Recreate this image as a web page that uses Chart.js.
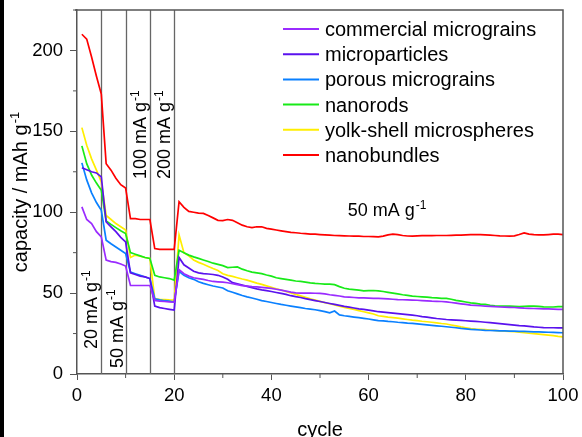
<!DOCTYPE html>
<html>
<head>
<meta charset="utf-8">
<script src="https://cdn.jsdelivr.net/npm/chart.js@4.4.0/dist/chart.umd.min.js"></script>
<style>
  html, body { margin: 0; padding: 0; background: #fff; }
  canvas { display: block; }
</style>
</head>
<body>
<canvas id="cv" width="582" height="437"></canvas>
<script>
// cycle numbers 1..100
const cycles = Array.from({ length: 100 }, (_, i) => i + 1);

const commercialMicrograins = [
  103.3, 95.5, 93, 88, 84.8, 70.4, 69.5, 69, 68, 66.7,
  54.7, 54.7, 54.7, 54.7, 54.7, 45.5, 45, 44.8, 44.6, 44.5,
  64.5, 62, 60.5, 59.5, 59, 58.5, 57.8, 57.2, 57, 56.8,
  56.4, 55.8, 55.2, 54.6, 54.3, 54, 53.8, 53.5, 53.2, 52.9,
  52.4, 51.8, 51.2, 50.6, 50.2, 50, 50, 50, 49.9, 49.8,
  49.5, 49, 48.6, 48.2, 47.7, 47.5, 47.3, 47.1, 47, 46.9,
  46.8, 46.7, 46.6, 46.4, 46.2, 46, 45.9, 45.8, 45.7, 45.6,
  45.4, 45.2, 45, 44.9, 44.8, 44.6, 44.2, 43.8, 43.4, 43,
  42.6, 42.4, 42.2, 42, 41.8, 41.6, 41.4, 41.3, 41.2, 41.1,
  40.9, 40.7, 40.6, 40.5, 40.4, 40.3, 40.2, 40.1, 40, 39.9
];
const microparticles = [
  127.5, 126.3, 125, 124.3, 121.8, 94, 91, 88, 84.5, 81.7,
  62.5, 61.5, 60.5, 60, 59, 42, 41, 40.5, 40, 39.5,
  72, 67.5, 65.5, 63.5, 62.5, 62, 61.8, 61.5, 61, 60,
  58.5, 56.5, 55.8, 55, 54.2, 53.4, 52.6, 52, 51.5, 51,
  50.4, 49.8, 49.2, 48.4, 47.8, 47.3, 46.6, 46, 45.4, 44.8,
  44.2, 43.6, 43, 42.4, 41.8, 41.3, 40.8, 40.3, 39.9, 39.5,
  39, 38.5, 38.2, 37.9, 37.6, 37.3, 37, 36.7, 36.4, 36,
  35.5, 35.1, 34.7, 34.3, 34, 33.7, 33.5, 33.3, 33.1, 32.9,
  32.7, 32.5, 32.3, 32, 31.7, 31.4, 31.1, 30.8, 30.5, 30.2,
  29.9, 29.7, 29.4, 29.1, 28.9, 28.7, 28.6, 28.6, 28.5, 28.5
];
const porousMicrograins = [
  130.5, 120, 112, 106, 101.2, 82.7, 80.5, 78.5, 76.5, 74.5,
  63, 62, 61, 60, 59, 46.5, 45.8, 45.3, 45, 44.5,
  63.5, 61, 59.5, 58.5, 57, 56, 55.2, 54.4, 53.8, 53.2,
  51.5, 50.5, 49.5, 48.5, 47.7, 47, 46.2, 45.4, 44.8, 44.2,
  43.6, 43, 42.5, 42, 41.5, 41, 40.5, 40.1, 39.7, 39.2,
  38.6, 37.8, 38.9, 36.5, 36, 35.6, 35.2, 34.8, 34.4, 34,
  33.5, 33, 32.8, 32.5, 32.3, 32, 31.8, 31.5, 31.3, 31,
  30.7, 30.4, 30.1, 29.8, 29.5, 29.2, 28.9, 28.6, 28.2, 27.9,
  27.6, 27.4, 27.2, 27, 26.9, 26.8, 26.7, 26.6, 26.5, 26.5,
  26.4, 26.3, 26.2, 26.1, 26, 25.9, 25.8, 25.7, 25.6, 25.5
];
const nanorods = [
  141, 130, 123, 118, 113.6, 94.6, 92.5, 90.5, 88.5, 86.8,
  75, 74, 73, 72, 71.4, 61, 60, 59.5, 59, 58,
  76.5, 75, 73.5, 72.4, 71.5, 70.5, 69.5, 68.5, 67.8, 67,
  65.8, 66, 66.2, 64.8, 63.8, 63, 62.5, 62, 61.2, 60.5,
  59.5, 59, 58.5, 58, 57.5, 57.2, 56.8, 56.3, 56, 55.8,
  55.6, 55.5, 55.2, 54, 53, 52.5, 52.2, 51.8, 51.4, 51.5,
  51.6, 51.4, 51, 50.5, 50, 49.5, 49, 48.6, 48.1, 47.9,
  47.7, 47.5, 47.2, 47, 46.8, 46.7, 46.2, 45.5, 45, 44.5,
  44, 43.6, 43.2, 43, 42.5, 42.2, 42, 42, 42, 41.8,
  41.6, 41.8, 42, 42, 41.8, 41.5, 41.4, 41.4, 41.6, 41.6
];
const yolkShellMicrospheres = [
  152.3, 141.4, 133, 126, 118.7, 98, 95.5, 93, 91, 89,
  72, 73.5, 72.8, 72, 71.4, 46.5, 46.2, 46, 45.8, 45.7,
  86, 75, 73, 70.5, 69, 67.8, 66.5, 65.2, 64, 62,
  61, 60.3, 59.5, 58.7, 58, 57.1, 56.2, 55.4, 54.5, 53.6,
  52.7, 51.9, 51, 50.1, 49.2, 48.3, 47.4, 46.5, 45.7, 44.9,
  44.1, 43.4, 42.7, 41.9, 41.2, 40.6, 39.9, 39.2, 38.5, 37.8,
  37.1, 36, 35.6, 35.2, 34.9, 34.5, 34.1, 33.7, 33.3, 33,
  32.6, 32.3, 32, 31.6, 31.2, 30.9, 30.3, 29.7, 29.1, 28.6,
  28.1, 27.8, 27.6, 27.4, 27.2, 27, 26.7, 26.5, 26.3, 26.1,
  25.8, 25.5, 25.2, 24.9, 24.6, 24.3, 24, 23.7, 23.3, 23
];
const nanobundles = [
  210, 207, 196, 184, 173, 130, 126, 121, 117, 115,
  96, 96, 95.5, 95.5, 95.5, 77.5, 77, 77, 77, 77,
  106.5, 103, 100.5, 100, 99.5, 99.3, 98, 96.5, 95, 94.8,
  95.5, 95, 93.5, 92, 91, 90.5, 91, 91, 90, 89.5,
  89, 88.5, 88, 87.5, 87.3, 87, 86.8, 86.5, 86.4, 86.2,
  86, 85.8, 85.6, 85.5, 85.4, 85.3, 85.2, 85.2, 85, 85,
  84.9, 84.8, 85.2, 86, 86.4, 86.2, 85.6, 85.3, 85.2, 85.4,
  85.5, 85.6, 85.5, 85.6, 85.6, 85.6, 85.7, 85.8, 85.9, 86,
  86.1, 86.2, 86.2, 86, 85.8, 85.6, 85.4, 85.3, 85.2, 85.4,
  86.2, 87.2, 86.5, 86.2, 86, 86, 86.2, 86.4, 86.4, 86.2
];

const seriesNames = ['commercial micrograins', 'microparticles', 'porous micrograins',
  'nanorods', 'yolk-shell microspheres', 'nanobundles'];
const seriesValues = [commercialMicrograins, microparticles, porousMicrograins,
  nanorods, yolkShellMicrospheres, nanobundles];
const seriesColors = ['#9a2bff', '#5a12ee', '#0a80ff', '#18ea18', '#ffee00', '#ff0000'];

const xTicks = [0, 20, 40, 60, 80, 100];
const yTicks = [0, 50, 100, 150, 200];
const xMinorTicks = [10, 30, 50, 70, 90];
const yMinorTicks = [25, 75, 125, 175, 225];

// current density steps: boundaries and labels (value at cycle, value on y)
const rateBounds = [5, 10, 15, 20];
const rateLabels = [
  { text: '20 mA g', x: 4.1, y: 15.4, rot: true, align: 'left' },
  { text: '50 mA g', x: 9.4, y: 3.7, rot: true, align: 'left' },
  { text: '100 mA g', x: 14.2, y: 175.3, rot: true, align: 'right' },
  { text: '200 mA g', x: 19.1, y: 175.3, rot: true, align: 'right' },
  { text: '50 mA g', x: 55.7, y: 97.5, rot: false, align: 'left' }
];

const FONT = '"Liberation Sans", Arial, sans-serif';
const AXIS = '#555';

function supText(ctx, base, sup, x, y, size, align) {
  ctx.font = size + 'px ' + FONT;
  const wb = ctx.measureText(base).width;
  ctx.font = Math.round(size * 0.66) + 'px ' + FONT;
  const ws = ctx.measureText(sup).width;
  let x0 = x;
  if (align === 'right') x0 = x - wb - ws - 1;
  if (align === 'center') x0 = x - (wb + ws + 1) / 2;
  ctx.textAlign = 'left';
  ctx.textBaseline = 'alphabetic';
  ctx.font = size + 'px ' + FONT;
  ctx.fillText(base, x0, y);
  ctx.font = Math.round(size * 0.66) + 'px ' + FONT;
  ctx.fillText(sup, x0 + wb + 1, y - size * 0.4);
}

const decor = {
  id: 'decor',
  beforeDraw(chart) {
    const ctx = chart.ctx;
    ctx.save();
    ctx.fillStyle = '#fff';
    ctx.fillRect(0, 0, chart.width, chart.height);
    ctx.fillStyle = '#000';
    ctx.fillRect(0, 0, 4, chart.height);
    ctx.restore();
  },
  beforeDatasetsDraw(chart) {
    const { ctx, chartArea, scales } = chart;
    ctx.save();
    ctx.strokeStyle = '#666';
    ctx.lineWidth = 1.3;
    rateBounds.forEach(c => {
      const px = Math.round(scales.x.getPixelForValue(c)) + 0.5;
      ctx.beginPath();
      ctx.moveTo(px, chartArea.top);
      ctx.lineTo(px, chartArea.bottom);
      ctx.stroke();
    });
    ctx.restore();
  },
  afterDraw(chart) {
    const { ctx, chartArea, scales } = chart;
    const a = chartArea;
    ctx.save();
    // frame top / right
    ctx.strokeStyle = AXIS;
    ctx.lineWidth = 1.5;
    ctx.beginPath();
    ctx.moveTo(a.left - 2, a.top);
    ctx.lineTo(a.right, a.top);
    ctx.lineTo(a.right, a.bottom);
    ctx.stroke();
    // minor ticks
    ctx.lineWidth = 1;
    xMinorTicks.forEach(v => {
      const px = scales.x.getPixelForValue(v);
      ctx.beginPath();
      ctx.moveTo(px, a.bottom);
      ctx.lineTo(px, a.bottom + 4);
      ctx.stroke();
    });
    yMinorTicks.forEach(v => {
      const py = scales.y.getPixelForValue(v);
      ctx.beginPath();
      ctx.moveTo(a.left, py);
      ctx.lineTo(a.left - 4, py);
      ctx.stroke();
    });
    // legend
    ctx.fillStyle = '#000';
    chart.data.datasets.forEach((ds, i) => {
      const ly = 29 + i * 25.2;
      ctx.strokeStyle = ds.borderColor;
      ctx.lineWidth = 2;
      ctx.beginPath();
      ctx.moveTo(283, ly);
      ctx.lineTo(319, ly);
      ctx.stroke();
      ctx.font = '20px ' + FONT;
      ctx.textAlign = 'left';
      ctx.textBaseline = 'alphabetic';
      ctx.fillText(ds.label, 325, ly + 7);
    });
    // current density labels
    rateLabels.forEach(l => {
      const px = scales.x.getPixelForValue(l.x);
      const py = scales.y.getPixelForValue(l.y);
      if (l.rot) {
        ctx.save();
        ctx.translate(px, py);
        ctx.rotate(-Math.PI / 2);
        supText(ctx, l.text, '-1', 0, 0, 18, l.align);
        ctx.restore();
      } else {
        supText(ctx, l.text, '-1', px, py, 18, l.align);
      }
    });
    // axis titles
    ctx.save();
    ctx.translate(27, (a.top + a.bottom) / 2);
    ctx.rotate(-Math.PI / 2);
    supText(ctx, 'capacity / mAh g', '-1', 0, 0, 20, 'center');
    ctx.restore();
    ctx.font = '20px ' + FONT;
    ctx.textAlign = 'center';
    ctx.fillText('cycle', (a.left + a.right) / 2, 436);
    ctx.restore();
  }
};

new Chart(document.getElementById('cv'), {
  type: 'line',
  data: {
    datasets: seriesNames.map((name, i) => ({
      label: name,
      data: cycles.map((c, j) => ({ x: c, y: seriesValues[i][j] })),
      borderColor: seriesColors[i],
      backgroundColor: seriesColors[i],
      borderWidth: 1.7,
      pointRadius: 0,
      tension: 0,
      fill: false
    }))
  },
  options: {
    responsive: false,
    animation: false,
    layout: { padding: { top: 10, right: 19, left: 0, bottom: 0 } },
    plugins: { legend: { display: false }, tooltip: { enabled: false } },
    scales: {
      x: {
        type: 'linear',
        min: 0,
        max: 100,
        afterBuildTicks: s => { s.ticks = xTicks.map(v => ({ value: v })); },
        afterFit: s => { s.height = 63; s.paddingLeft = 0; s.paddingRight = 0; },
        ticks: { color: '#000', padding: 5, maxRotation: 0, font: { size: 18.5, family: FONT } },
        grid: { drawOnChartArea: false, drawTicks: true, tickLength: 6, color: AXIS, tickColor: AXIS, lineWidth: 1 },
        border: { display: true, color: AXIS, width: 1.5 }
      },
      y: {
        type: 'linear',
        min: 0,
        max: 225,
        afterBuildTicks: s => { s.ticks = yTicks.map(v => ({ value: v })); },
        afterFit: s => { s.width = 77; s.paddingTop = 0; s.paddingBottom = 0; },
        ticks: { color: '#000', padding: 7, font: { size: 18.5, family: FONT } },
        grid: { drawOnChartArea: false, drawTicks: true, tickLength: 7, color: AXIS, tickColor: AXIS, lineWidth: 1 },
        border: { display: true, color: AXIS, width: 1.5 }
      }
    }
  },
  plugins: [decor]
});
</script>
</body>
</html>
